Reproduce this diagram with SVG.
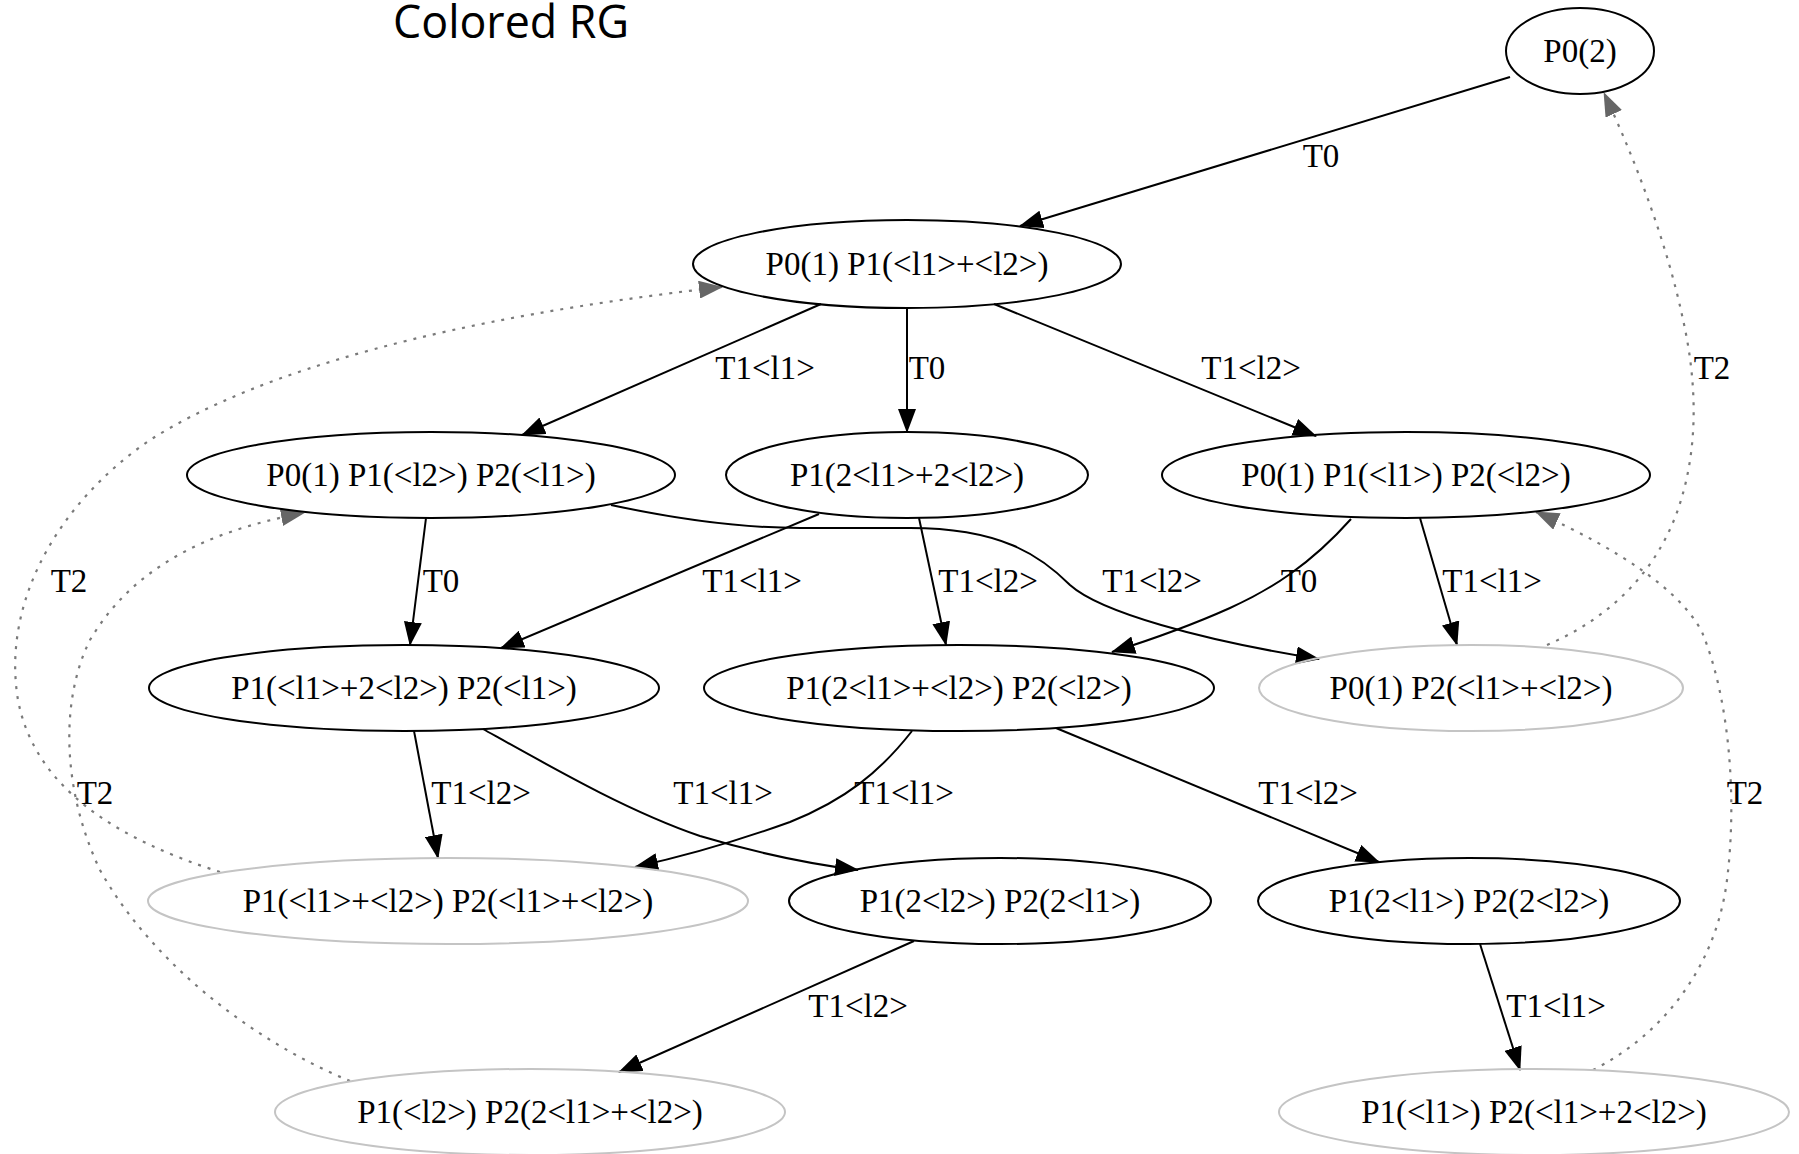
<svg xmlns="http://www.w3.org/2000/svg" width="1799" height="1154" viewBox="0 0 1799 1154">
<style>
.n ellipse{fill:none;stroke:#000;stroke-width:2}
.n.g ellipse{stroke:#c4c4c4}
text{font-family:"Liberation Serif","Times New Roman",serif;font-size:33px;fill:#000;text-anchor:middle}
.e path{fill:none;stroke:#000;stroke-width:2;marker-end:url(#ah)}
.e path.d{stroke:#7a7a7a;stroke-width:2.2;stroke-dasharray:3 7;marker-end:url(#ahg)}
.title{font-family:"Open Sans","Noto Sans",sans-serif;font-size:46px;text-anchor:start}
</style>
<defs>
<marker id="ah" markerWidth="24" markerHeight="18" refX="23" refY="9" orient="auto" markerUnits="userSpaceOnUse"><path d="M0,0 L24,9 L0,18 z" fill="#000"/></marker>
<marker id="ahg" markerWidth="24" markerHeight="18" refX="23" refY="9" orient="auto" markerUnits="userSpaceOnUse"><path d="M0,0 L24,9 L0,18 z" fill="#666"/></marker>
</defs>
<rect width="1799" height="1154" fill="#fff"/>
<text class="title" x="393" y="38" textLength="236" lengthAdjust="spacingAndGlyphs">Colored RG</text>

<g id="edges" class="e">
<path d="M1510,77 L1020,226"/>
<path d="M821,304 L522,435"/>
<path d="M907,308 L907,432"/>
<path d="M994,304 L1316,436"/>
<path d="M426,518 L410,645"/>
<path d="M819,514 L501,648"/>
<path d="M919,518 L946,645"/>
<path d="M611,505 C690,522 750,528 800,528 L910,528 C1000,528 1040,555 1070,585 C1100,612 1200,640 1319,659"/>
<path d="M1351,519 C1310,565 1270,590 1230,608 C1190,626 1150,640 1112,652"/>
<path d="M1420,518 L1457,645"/>
<path d="M414,731 L438,858"/>
<path d="M483,729 C560,772 630,812 700,836 C760,854 810,864 858,870"/>
<path d="M912,731 C880,772 845,800 790,822 C740,840 690,855 635,867"/>
<path d="M1056,728 L1379,862"/>
<path d="M914,941 L619,1072"/>
<path d="M1480,944 L1520,1070"/>
<path class="d" d="M1547,645 C1605,620 1652,578 1676,515 C1700,450 1697,380 1682,315 C1668,250 1640,170 1604,93"/>
<path class="d" d="M1593,1070 C1662,1035 1716,968 1727,880 C1737,800 1730,700 1702,632 C1680,590 1620,550 1536,512"/>
<path class="d" d="M220,872 C120,840 35,790 18,700 C2,605 55,505 150,440 C260,370 450,318 722,287"/>
<path class="d" d="M350,1081 C250,1040 150,960 100,870 C62,790 60,700 90,640 C130,572 200,532 304,513"/>
<text x="1321" y="167">T0</text>
<text x="765" y="379">T1&lt;l1&gt;</text>
<text x="927" y="379">T0</text>
<text x="1251" y="379">T1&lt;l2&gt;</text>
<text x="1712" y="379">T2</text>
<text x="69" y="592">T2</text>
<text x="441" y="592">T0</text>
<text x="752" y="592">T1&lt;l1&gt;</text>
<text x="988" y="592">T1&lt;l2&gt;</text>
<text x="1152" y="592">T1&lt;l2&gt;</text>
<text x="1299" y="592">T0</text>
<text x="1492" y="592">T1&lt;l1&gt;</text>
<text x="95" y="804">T2</text>
<text x="481" y="804">T1&lt;l2&gt;</text>
<text x="723" y="804">T1&lt;l1&gt;</text>
<text x="904" y="804">T1&lt;l1&gt;</text>
<text x="1308" y="804">T1&lt;l2&gt;</text>
<text x="1745" y="804">T2</text>
<text x="858" y="1017">T1&lt;l2&gt;</text>
<text x="1556" y="1017">T1&lt;l1&gt;</text>
</g>

<g id="n0" class="n"><ellipse cx="1580" cy="51" rx="74" ry="43"/><text x="1580" y="62">P0(2)</text></g>
<g id="n1" class="n"><ellipse cx="907" cy="264" rx="214" ry="44"/><text x="907" y="275">P0(1) P1(&lt;l1&gt;+&lt;l2&gt;)</text></g>
<g id="n2" class="n"><ellipse cx="431" cy="475" rx="244" ry="43"/><text x="431" y="486">P0(1) P1(&lt;l2&gt;) P2(&lt;l1&gt;)</text></g>
<g id="n3" class="n"><ellipse cx="907" cy="475" rx="181" ry="43"/><text x="907" y="486">P1(2&lt;l1&gt;+2&lt;l2&gt;)</text></g>
<g id="n4" class="n"><ellipse cx="1406" cy="475" rx="244" ry="43"/><text x="1406" y="486">P0(1) P1(&lt;l1&gt;) P2(&lt;l2&gt;)</text></g>
<g id="n5" class="n"><ellipse cx="404" cy="688" rx="255" ry="43"/><text x="404" y="699">P1(&lt;l1&gt;+2&lt;l2&gt;) P2(&lt;l1&gt;)</text></g>
<g id="n6" class="n"><ellipse cx="959" cy="688" rx="255" ry="43"/><text x="959" y="699">P1(2&lt;l1&gt;+&lt;l2&gt;) P2(&lt;l2&gt;)</text></g>
<g id="n7" class="n g"><ellipse cx="1471" cy="688" rx="212" ry="43"/><text x="1471" y="699">P0(1) P2(&lt;l1&gt;+&lt;l2&gt;)</text></g>
<g id="n8" class="n g"><ellipse cx="448" cy="901" rx="300" ry="43"/><text x="448" y="912">P1(&lt;l1&gt;+&lt;l2&gt;) P2(&lt;l1&gt;+&lt;l2&gt;)</text></g>
<g id="n9" class="n"><ellipse cx="1000" cy="901" rx="211" ry="43"/><text x="1000" y="912">P1(2&lt;l2&gt;) P2(2&lt;l1&gt;)</text></g>
<g id="n10" class="n"><ellipse cx="1469" cy="901" rx="211" ry="43"/><text x="1469" y="912">P1(2&lt;l1&gt;) P2(2&lt;l2&gt;)</text></g>
<g id="n11" class="n g"><ellipse cx="530" cy="1112" rx="255" ry="43"/><text x="530" y="1123">P1(&lt;l2&gt;) P2(2&lt;l1&gt;+&lt;l2&gt;)</text></g>
<g id="n12" class="n g"><ellipse cx="1534" cy="1112" rx="255" ry="43"/><text x="1534" y="1123">P1(&lt;l1&gt;) P2(&lt;l1&gt;+2&lt;l2&gt;)</text></g>
</svg>
